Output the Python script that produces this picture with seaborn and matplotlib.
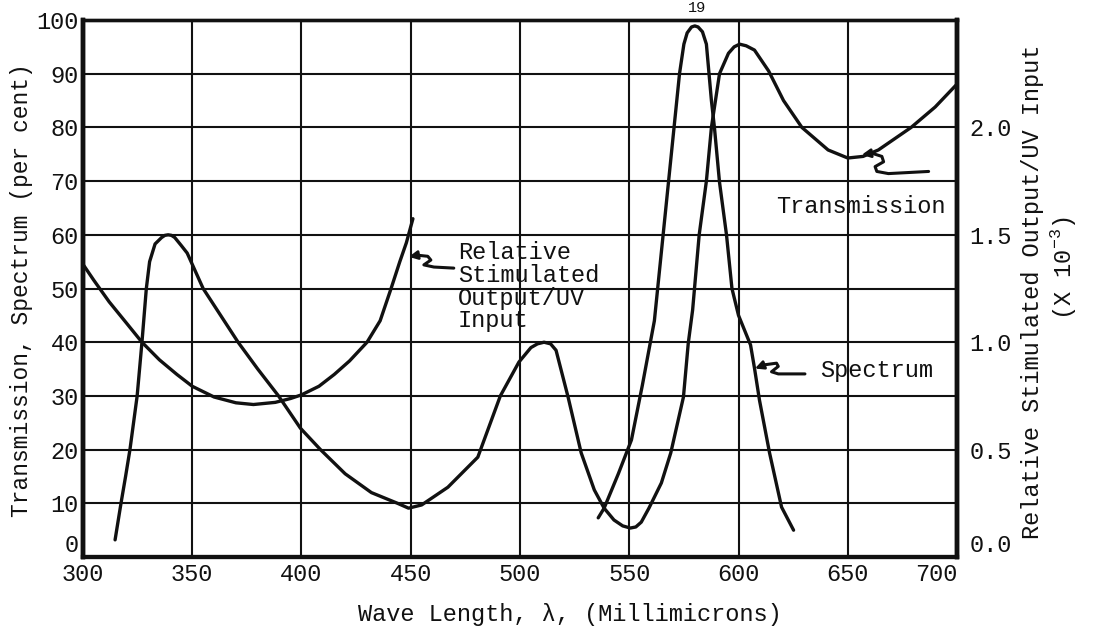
import matplotlib
matplotlib.use("Agg")
import matplotlib.pyplot as plt
import seaborn as sns
import pandas as pd

# Transmission of the filter (per cent)
trans_wl = [314.7, 317.4, 319.5, 321.5, 324.8, 327.0, 329.0, 330.5, 333.0, 336.0,
            337.5, 339.0, 340.5, 342.0, 345.0, 347.7, 355.0, 363.0, 371.0, 380.0,
            389.5, 399.5, 408.7, 420.0, 432.0, 444.0, 449.0, 455.0, 467.0, 480.7,
            491.0, 499.5, 505.0, 508.0, 511.0, 514.0, 516.5, 522.0, 528.0, 534.0,
            538.5, 543.0, 547.0, 550.5, 553.0, 555.5, 559.0, 564.7, 569.0, 574.8,
            577.0, 579.0, 582.0, 585.3, 587.6, 591.3, 595.4, 598.0, 600.5, 603.5,
            607.3, 613.8, 620.6, 629.0, 641.0, 650.0, 657.0, 664.0, 679.0, 690.0,
            701.0]
trans_pct = [3.2, 10.0, 15.0, 20.0, 30.0, 40.0, 50.0, 55.0, 58.3, 59.5,
             59.9, 60.0, 59.9, 59.5, 58.0, 56.6, 50.0, 45.0, 40.0, 35.0,
             30.0, 24.0, 20.0, 15.5, 12.0, 10.0, 9.1, 9.7, 13.0, 18.6,
             30.0, 36.3, 39.0, 39.7, 40.0, 39.7, 38.5, 29.8, 19.4, 12.5,
             9.1, 6.9, 5.8, 5.4, 5.6, 6.5, 9.1, 13.8, 19.4, 29.8,
             39.8, 46.0, 60.0, 70.0, 80.0, 90.0, 93.8, 95.0, 95.5, 95.2,
             94.4, 90.5, 85.0, 80.0, 75.8, 74.3, 74.6, 75.8, 80.0, 83.8,
             88.5]

# Emission spectrum (per cent)
spec_wl = [535.8, 538.5, 545.0, 551.0, 556.0, 561.5, 565.0, 568.0, 571.0, 573.0,
           575.0, 576.5, 578.5, 580.0, 581.5, 583.5, 585.3, 587.6, 589.0, 591.3,
           594.5, 597.0, 600.0, 605.5, 607.3, 609.6, 614.2, 619.7, 625.2]
spec_pct = [7.3, 9.1, 15.5, 21.8, 32.0, 44.0, 58.0, 70.0, 82.0, 90.0,
            95.5, 97.6, 98.7, 98.9, 98.7, 97.8, 95.5, 85.0, 79.9, 69.8,
            60.0, 50.0, 45.0, 39.5, 35.2, 29.2, 19.4, 9.3, 5.0]

# Relative stimulated output / UV input (x 10^-3)
rel_wl = [300, 305, 312, 320, 327, 335, 343, 350, 360, 370, 378, 388, 395,
          400, 408, 415, 422, 430, 436, 441, 445, 448, 451]
rel_out = [1.363, 1.288, 1.188, 1.088, 1.000, 0.918, 0.850, 0.795, 0.745,
           0.718, 0.710, 0.720, 0.738, 0.755, 0.795, 0.850, 0.913, 1.000,
           1.100, 1.250, 1.375, 1.463, 1.575]

x_ticks = [300, 350, 400, 450, 500, 550, 600, 650, 700]
left_ticks = [0, 10, 20, 30, 40, 50, 60, 70, 80, 90, 100]
right_ticks = [0.0, 0.5, 1.0, 1.5, 2.0]

sns.set_style("white")
FONT = ["Liberation Mono", "DejaVu Sans Mono"]
plt.rcParams["font.family"] = FONT
plt.rcParams["mathtext.fontset"] = "custom"
plt.rcParams["mathtext.rm"] = "Liberation Mono"
FS = 17
INK = "#111111"

fig = plt.figure(figsize=(10.93, 6.33), dpi=100)
ax = fig.add_axes([0.0759, 0.120, 0.7997, 0.8484])
ax2 = ax.twinx()

# grid drawn first, behind the curves
for x in x_ticks[1:-1]:
    ax.axvline(x, color=INK, lw=1.5, zorder=1)
for y in left_ticks[1:-1]:
    ax.axhline(y, color=INK, lw=1.5, zorder=1)

df_t = pd.DataFrame({"wl": trans_wl, "v": trans_pct})
df_s = pd.DataFrame({"wl": spec_wl, "v": spec_pct})
df_r = pd.DataFrame({"wl": rel_wl, "v": rel_out})
line_kw = dict(color=INK, lw=2.4, estimator=None, sort=False,
               solid_joinstyle="round", solid_capstyle="round")
sns.lineplot(data=df_t, x="wl", y="v", ax=ax, **line_kw)
sns.lineplot(data=df_s, x="wl", y="v", ax=ax, **line_kw)
sns.lineplot(data=df_r, x="wl", y="v", ax=ax2, **line_kw)

ax.set_xlim(300, 700)
ax.set_ylim(0, 100)
ax2.set_ylim(0, 2.5)

ax.set_xticks(x_ticks)
ax.set_xticklabels([str(v) for v in x_ticks])
ax.get_xticklabels()[-1].set_horizontalalignment("right")
ax.set_yticks(left_ticks)
ax.set_yticklabels([str(v) for v in left_ticks])
ax.get_yticklabels()[0].set_verticalalignment("bottom")
ax2.set_yticks(right_ticks)
ax2.set_yticklabels([f"{v:.1f}" for v in right_ticks])
ax2.get_yticklabels()[0].set_verticalalignment("bottom")
ax.tick_params(axis="both", length=0, labelsize=FS, colors=INK)
ax.tick_params(axis="x", pad=4)
ax.tick_params(axis="y", pad=3)
ax2.tick_params(axis="y", length=0, labelsize=FS, colors=INK, pad=9)
ax.set_xlabel("")
ax.set_ylabel("")
ax2.set_ylabel("")

for a in (ax, ax2):
    for side, w in (("left", 3.2), ("bottom", 3.0), ("right", 3.2), ("top", 2.4)):
        a.spines[side].set_visible(True)
        a.spines[side].set_linewidth(w)
        a.spines[side].set_color(INK)

# axis titles
fig.text(570 / 1093, 1 - 614 / 633, "Wave Length, \u03bb, (Millimicrons)",
         ha="center", va="center", fontsize=FS, color=INK)
fig.text(22 / 1093, 1 - 290 / 633, "Transmission, Spectrum (per cent)",
         ha="center", va="center", rotation=90, fontsize=16.5, color=INK)
fig.text(1033 / 1093, 1 - 292 / 633, "Relative Stimulated Output/UV Input",
         ha="center", va="center", rotation=90, fontsize=FS, color=INK)
fig.text(1063 / 1093, 1 - 268 / 633, "(X 10$^{-3}$)",
         ha="center", va="center", rotation=90, fontsize=FS, color=INK)
fig.text(697 / 1093, 1 - 1 / 633, "19", ha="center", va="top",
         fontsize=11, color=INK)

# curve labels with hand-drawn pointers
ax.text(471.6, 58.8, "Relative\nStimulated\nOutput/UV\nInput", ha="left",
        va="top", fontsize=FS, color=INK, linespacing=0.98, zorder=5)
ax.text(617.4, 65.2, "Transmission", ha="left", va="center",
        fontsize=FS, color=INK, zorder=5)
ax.text(637.2, 34.8, "Spectrum", ha="left", va="center",
        fontsize=FS, color=INK, zorder=5)

pointers = [
    ([449.1, 453.2, 457.8, 459.2, 456.0, 460.6, 469.7],
     [55.9, 56.2, 56.0, 55.3, 54.4, 54.0, 53.8]),
    ([656.4, 661.0, 665.6, 666.4, 662.5, 663.3, 668.6, 687.0],
     [74.9, 75.2, 74.6, 73.6, 72.7, 71.8, 71.4, 71.8]),
    ([607.5, 612.0, 617.4, 618.2, 615.1, 618.2, 630.4],
     [35.1, 35.8, 36.1, 35.5, 34.5, 34.1, 34.1]),
]
for px, py in pointers:
    ax.plot(px[1:], py[1:], color=INK, lw=2.2, solid_joinstyle="round",
            solid_capstyle="round", zorder=4)
    ax.annotate("", xy=(px[0], py[0]), xytext=(px[1], py[1]),
                arrowprops=dict(arrowstyle="-|>,head_length=0.5,head_width=0.25",
                                color=INK, lw=2.0, shrinkA=0, shrinkB=0),
                zorder=4)

fig.savefig("out.png", dpi=100)
